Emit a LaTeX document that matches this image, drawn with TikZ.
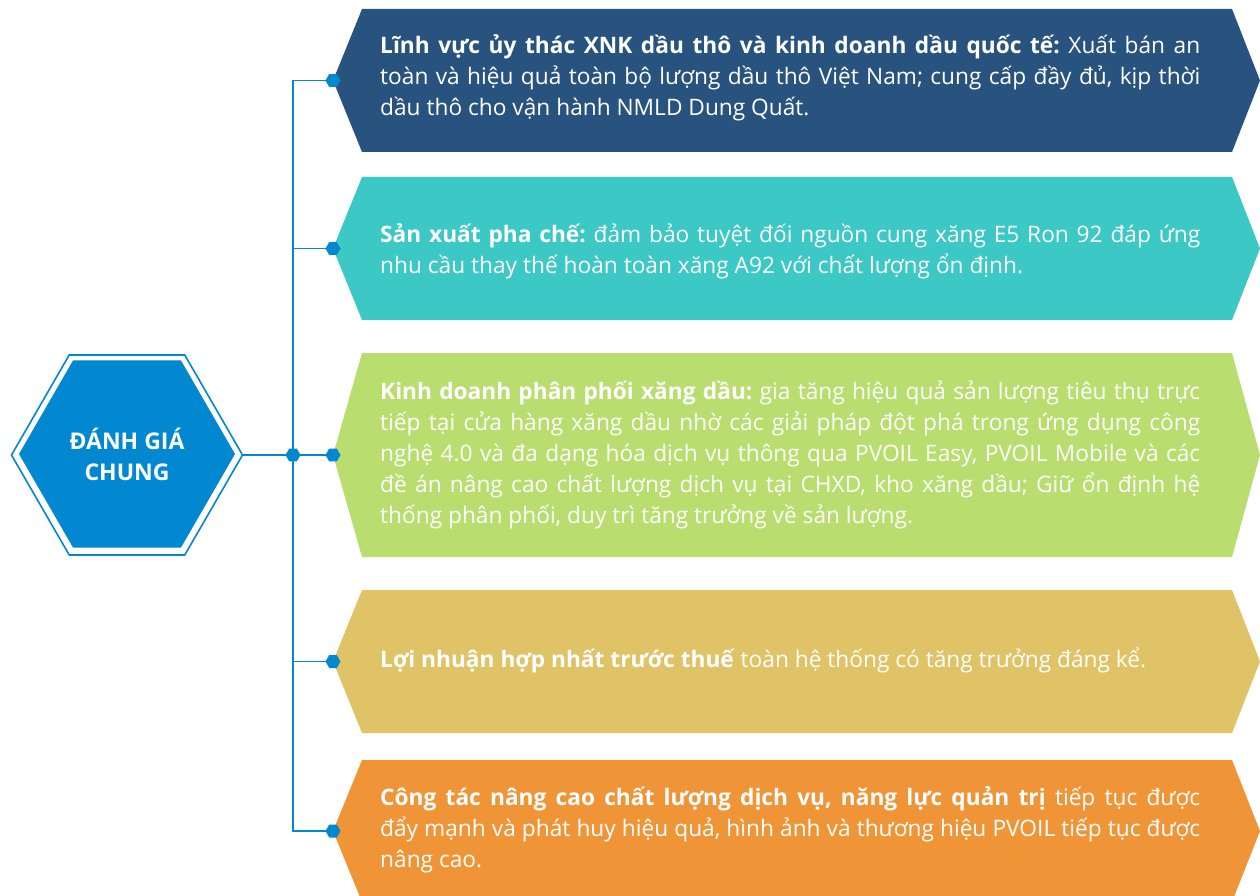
\documentclass[tikz,border=0pt]{standalone}
\usepackage{fontspec}
\setmainfont{Open Sans}
\usetikzlibrary{shapes.geometric}
\definecolor{hexblue}{RGB}{2,136,208}
\definecolor{cA}{RGB}{40,83,126}
\definecolor{cB}{RGB}{60,200,196}
\definecolor{cC}{RGB}{185,222,111}
\definecolor{cD}{RGB}{223,195,102}
\definecolor{cE}{RGB}{240,149,55}
\newcommand{\jline}[1]{\makebox[820pt][s]{#1}}
\frenchspacing
\begin{document}
\begin{tikzpicture}[x=1pt,y=-1pt,
  conn/.style={draw=hexblue,line width=1.8pt},
  dotnode/.style={regular polygon,regular polygon sides=6,fill=hexblue,minimum size=15pt,inner sep=0pt},
  boxtext/.style={anchor=west,text=white,align=left,inner sep=0pt,font=\fontsize{22.7}{31}\selectfont}]
\useasboundingbox (0,0) rectangle (1260,896);
% boxes
\newcommand{\arrowbox}[4]{% top, bottom, colour, name
  \fill[#3] (333,{(#1+#2)/2}) -- (362,#1) -- (1232,#1) -- (1260,{(#1+#2)/2}) -- (1232,#2) -- (362,#2) -- cycle;
  \coordinate (#4) at (333,{(#1+#2)/2});}
\arrowbox{9}{152}{cA}{t1}
\arrowbox{177}{320}{cB}{t2}
\arrowbox{353}{557}{cC}{t3}
\arrowbox{590}{733}{cD}{t4}
\arrowbox{760}{902}{cE}{t5}
% central hexagon
\node[regular polygon,regular polygon sides=6,minimum size=231pt,inner sep=0pt,draw=hexblue,line width=1.6pt] (hexout) at (127,455) {};
\node[regular polygon,regular polygon sides=6,minimum size=216pt,inner sep=0pt,fill=hexblue,text=white,align=center,font=\bfseries\fontsize{23}{31}\selectfont] (hex) at (127,454) {ĐÁNH GIÁ\\CHUNG};
% connectors
\coordinate (j) at (293,455);
\draw[conn] (hexout.east) -- (j);
\draw[conn] (t1) -| (j) |- (t5);
\draw[conn] (t2) -- (t2 -| j);
\draw[conn] (j) -- (t3);
\draw[conn] (t4) -- (t4 -| j);
\node[dotnode] (dj) at (j) {};
\node[dotnode] (d1) at (t1) {};
\node[dotnode] (d2) at (t2) {};
\node[dotnode] (d3) at (t3) {};
\node[dotnode] (d4) at (t4) {};
\node[dotnode] (d5) at (t5) {};
% texts
\node[boxtext] (x1) at (380,78) {\jline{\textbf{Lĩnh vực ủy thác XNK dầu thô và kinh doanh dầu quốc tế:} Xuất bán an}\\
\jline{toàn và hiệu quả toàn bộ lượng dầu thô Việt Nam; cung cấp đầy đủ, kịp thời}\\
dầu thô cho vận hành NMLD Dung Quất.};
\node[boxtext] (x2) at (380,251) {\jline{\textbf{Sản xuất pha chế:} đảm bảo tuyệt đối nguồn cung xăng E5 Ron 92 đáp ứng}\\
nhu cầu thay thế hoàn toàn xăng A92 với chất lượng ổn định.};
\node[boxtext] (x3) at (380,455) {\jline{\textbf{Kinh doanh phân phối xăng dầu:} gia tăng hiệu quả sản lượng tiêu thụ trực}\\
\jline{tiếp tại cửa hàng xăng dầu nhờ các giải pháp đột phá trong ứng dụng công}\\
\jline{nghệ 4.0 và đa dạng hóa dịch vụ thông qua PVOIL Easy, PVOIL Mobile và các}\\
\jline{đề án nâng cao chất lượng dịch vụ tại CHXD, kho xăng dầu; Giữ ổn định hệ}\\
thống phân phối, duy trì tăng trưởng về sản lượng.};
\node[boxtext] (x4) at (380,660) {\textbf{Lợi nhuận hợp nhất trước thuế} toàn hệ thống có tăng trưởng đáng kể.};
\node[boxtext] (x5) at (380,830) {\jline{\textbf{Công tác nâng cao chất lượng dịch vụ, năng lực quản trị} tiếp tục được}\\
\jline{đẩy mạnh và phát huy hiệu quả, hình ảnh và thương hiệu PVOIL tiếp tục được}\\
nâng cao.};
\end{tikzpicture}
\end{document}
